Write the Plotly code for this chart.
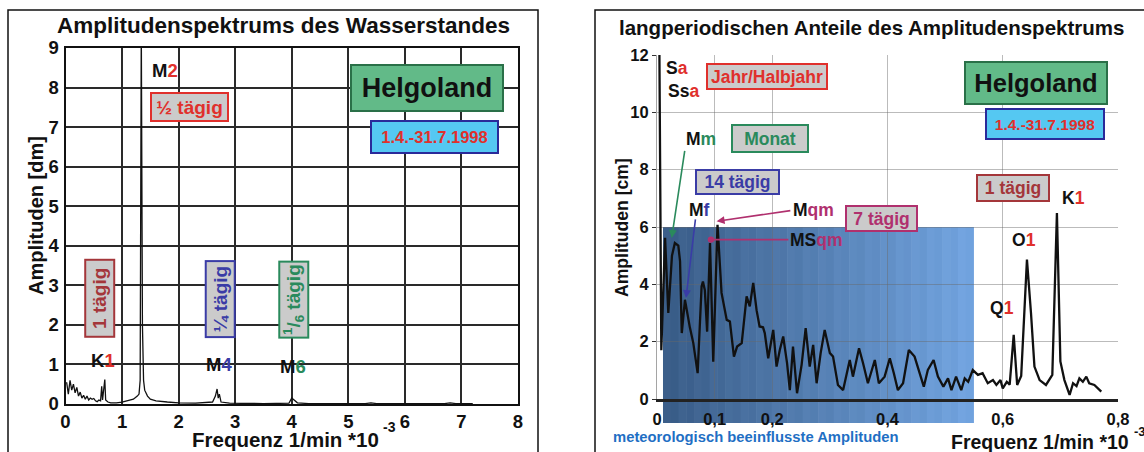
import plotly.graph_objects as go

W, H = 1144, 452
FONT = "Arial, Liberation Sans, Helvetica, sans-serif"

# ---------------- data: left chart (full spectrum, dm) ----------------
left_freq = [0.02, 0.05, 0.08, 0.11, 0.14, 0.17, 0.20, 0.23, 0.26, 0.29, 0.32, 0.35,
             0.38, 0.41, 0.44, 0.47, 0.50, 0.53, 0.56, 0.59, 0.62, 0.64, 0.655, 0.67,
             0.695, 0.71, 0.75, 0.80, 0.90, 1.00, 1.10, 1.20, 1.27, 1.30, 1.32, 1.34,
             1.36, 1.38, 1.40, 1.45, 1.50, 1.60, 1.80, 2.00, 2.30, 2.60, 2.65, 2.68,
             2.70, 2.72, 2.75, 2.90, 3.50, 3.95, 4.00, 4.03, 4.10, 4.30, 5.30, 5.40,
             5.50, 6.70, 6.80, 6.90, 7.20]
left_amp = [0.55, 0.25, 0.60, 0.35, 0.50, 0.28, 0.42, 0.20, 0.30, 0.15, 0.22, 0.12,
            0.20, 0.10, 0.15, 0.12, 0.14, 0.08, 0.06, 0.10, 0.08, 0.45, 0.10, 0.30,
            0.62, 0.10, 0.05, 0.03, 0.03, 0.05, 0.08, 0.12, 0.20, 0.25, 0.60, 9.60,
            2.00, 0.60, 0.35, 0.20, 0.12, 0.08, 0.05, 0.03, 0.02, 0.05, 0.20, 0.38,
            0.15, 0.25, 0.05, 0.02, 0.01, 0.02, 0.15, 0.12, 0.03, 0.01, 0.01, 0.03,
            0.01, 0.01, 0.03, 0.01, 0.01]

# ---------------- data: right chart (long-period part, cm) ----------------
right_freq = [0.004, 0.0075, 0.014, 0.0196, 0.026, 0.031, 0.037, 0.040, 0.043, 0.0485,
              0.057, 0.063, 0.0705, 0.0774, 0.0797, 0.083, 0.087, 0.092, 0.0976, 0.105,
              0.112, 0.121, 0.1265, 0.1335, 0.139, 0.147, 0.1555, 0.161, 0.167, 0.1728,
              0.178, 0.184, 0.187, 0.193, 0.2017, 0.2075, 0.213, 0.219, 0.2257, 0.2305,
              0.236, 0.243, 0.251, 0.258, 0.265, 0.271, 0.277, 0.284, 0.291, 0.300,
              0.3055, 0.314, 0.323, 0.3345, 0.340, 0.3506, 0.3576, 0.366, 0.378, 0.385,
              0.395, 0.404, 0.411, 0.418, 0.427, 0.437, 0.447, 0.456, 0.463, 0.470,
              0.480, 0.4875, 0.497, 0.505, 0.511, 0.519, 0.528, 0.534, 0.540, 0.548,
              0.557, 0.565, 0.574, 0.583, 0.589, 0.596, 0.600, 0.607, 0.612, 0.619,
              0.625, 0.632, 0.642, 0.649, 0.655, 0.664, 0.675, 0.686, 0.694, 0.700,
              0.707, 0.716, 0.722, 0.728, 0.733, 0.739, 0.745, 0.750, 0.759, 0.771]
right_amp = [12.6, 1.70, 5.62, 3.00, 5.00, 5.44, 5.35, 4.80, 2.30, 3.46,
             2.50, 1.95, 0.90, 3.93, 4.10, 3.80, 2.35, 5.44, 1.30, 6.08,
             3.70, 2.76, 2.70, 1.48, 1.83, 1.95, 3.58, 3.23, 4.05, 3.10,
             2.53, 2.50, 2.30, 1.42, 2.41, 1.13, 1.70, 2.18, 1.25, 0.31,
             1.83, 0.20, 1.20, 2.47, 1.13, 1.89, 0.55, 1.60, 2.41, 1.60,
             1.48, 0.49, 0.31, 1.36, 0.78, 1.77, 1.25, 0.55, 1.36, 0.55,
             0.78, 1.42, 0.90, 0.31, 0.55, 1.71, 1.48, 0.90, 0.43, 1.01,
             1.36, 0.78, 0.43, 0.72, 0.31, 0.78, 0.31, 0.72, 0.60, 1.01,
             0.84, 0.90, 0.55, 0.66, 0.49, 0.66, 0.37, 0.60, 0.50, 2.24,
             0.49, 0.80, 4.86, 3.00, 1.13, 0.66, 0.49, 0.84, 6.49, 1.31,
             0.66, 0.14, 0.55, 0.45, 0.72, 0.60, 0.78, 0.55, 0.49, 0.26]

right_tickvals = [0, 0.1, 0.2, 0.4, 0.6, 0.8]
right_ticktext = ["0", "0,1", "0,2", "0,4", "0,6", "0,8"]

# meteorologically influenced band (frequency range, amplitude top/bottom)
band_f0, band_f1 = 0.0104, 0.549
band_top, band_bottom = 6.0, -0.84

# ---------------- layout geometry ----------------
L_X = [65.5 / W, 518 / W]
L_Y = [(H - 404) / H, (H - 48) / H]
R_X = [657 / W, 1118 / W]
R_Y = [(H - 399) / H, (H - 55) / H]
R_XR = [0, 0.8]
R_YR = [0, 12]


def rx(f):
    return R_X[0] + (f - R_XR[0]) / (R_XR[1] - R_XR[0]) * (R_X[1] - R_X[0])


def ry(a):
    return R_Y[0] + (a - R_YR[0]) / (R_YR[1] - R_YR[0]) * (R_Y[1] - R_Y[0])


def px(x):
    return x / W


def py(y):
    return (H - y) / H


fig = go.Figure()
fig.add_trace(go.Scatter(x=left_freq, y=left_amp, mode="lines",
                         line=dict(color="#111111", width=1.3),
                         xaxis="x", yaxis="y", showlegend=False, hoverinfo="skip"))
fig.add_trace(go.Scatter(x=right_freq, y=right_amp, mode="lines",
                         line=dict(color="#111111", width=2.3),
                         xaxis="x2", yaxis="y2", showlegend=False, hoverinfo="skip"))

shapes = []
# gradient band (strips)
N = 40
c0 = (60, 95, 138)
c1 = (116, 166, 226)
x0p, x1p = rx(band_f0), rx(band_f1)
for i in range(N):
    t = i / (N - 1)
    col = tuple(int(round(c0[k] + (c1[k] - c0[k]) * t)) for k in range(3))
    if i % 2:
        col = tuple(max(0, c - 4) for c in col)
    shapes.append(dict(type="rect", xref="paper", yref="paper",
                       x0=x0p + (x1p - x0p) * i / N, x1=x0p + (x1p - x0p) * (i + 1) / N + 0.0005,
                       y0=ry(band_bottom), y1=ry(band_top),
                       fillcolor="rgb(%d,%d,%d)" % col, line=dict(width=0), layer="below"))
# panel frames
shapes.append(dict(type="rect", xref="paper", yref="paper", x0=px(8), x1=px(538), y0=-0.02, y1=py(10),
                   line=dict(color="#111", width=1.5), fillcolor="rgba(0,0,0,0)", layer="above"))
shapes.append(dict(type="rect", xref="paper", yref="paper", x0=px(595), x1=1.02, y0=-0.02, y1=py(10),
                   line=dict(color="#111", width=1.5), fillcolor="rgba(0,0,0,0)", layer="above"))

GRAY = "#cbcbcb"
ann = []


def txt(x, y, text, size, xref="x", yref="y", color="#111", **kw):
    d = dict(x=x, y=y, xref=xref, yref=yref, text=text, showarrow=False,
             xanchor="center", yanchor="middle",
             font=dict(family=FONT, size=size, color=color))
    d.update(kw)
    ann.append(d)


def box(x, y, text, size, color, border, fill, w, h, xref="x", yref="y", angle=0):
    ann.append(dict(x=x, y=y, xref=xref, yref=yref, text=text, showarrow=False,
                    xanchor="center", yanchor="middle",
                    font=dict(family=FONT, size=size, color=color),
                    bgcolor=fill, bordercolor=border, borderwidth=2, borderpad=0,
                    width=w, height=h, textangle=angle, align="center", valign="middle"))


RED = "#e0302c"
DRED = "#a4363a"
BLUE = "#3a3ca6"
GREEN = "#2a8a5c"
MAG = "#b0306e"

# titles
txt(px(283), py(25), "<b>Amplitudenspektrums des Wasserstandes</b>", 22.5, "paper", "paper")
txt(px(872), py(27), "<b>langperiodischen Anteile des Amplitudenspektrums</b>", 20.5, "paper", "paper")
# axis titles
txt(px(36), py(216), "<b>Amplituden [dm]</b>", 20, "paper", "paper", textangle=-90)
txt(px(285), py(439), "<b>Frequenz 1/min *10</b>", 20.5, "paper", "paper")
txt(px(381), py(427), "<b>-3</b>", 14, "paper", "paper", xanchor="left")
txt(px(622), py(228), "<b>Amplituden [cm]</b>", 17.6, "paper", "paper", textangle=-90)
txt(px(1040), py(442), "<b>Frequenz 1/min *10</b>", 19.5, "paper", "paper")
txt(px(1132), py(431), "<b>-3</b>", 13, "paper", "paper", xanchor="left")
txt(px(756), py(437), "<b>meteorologisch beeinflusste Amplituden</b>", 14.8, "paper", "paper",
    color="#1f6fc4")

# left chart labels
txt(1.76, 8.44, '<b>M<span style="color:%s">2</span></b>' % RED, 18.5)
txt(0.67, 1.11, '<b>K<span style="color:%s">1</span></b>' % RED, 18.5)
txt(2.72, 0.99, '<b>M<span style="color:%s">4</span></b>' % BLUE, 18.5)
txt(4.02, 0.95, '<b>M<span style="color:%s">6</span></b>' % GREEN, 18.5)
box(2.19, 7.51, "<b>½ tägig</b>", 19, RED, RED, GRAY, 75, 26)
box(6.39, 7.99, "<b>Helgoland</b>", 27, "#111", "#2a7048", "#62ba88", 150, 44)
box(6.53, 6.75, "<b>1.4.-31.7.1998</b>", 16.5, RED, "#2a2a9a", "#55c8f2", 125, 30)
box(0.61, 2.66, "<b>1 tägig</b>", 19, DRED, DRED, GRAY, 75, 27, angle=-90)
box(2.73, 2.65, "<b>¼ tägig</b>", 19, BLUE, BLUE, GRAY, 74, 27, angle=-90)
box(4.03, 2.65, "<b><sup>1</sup>/<sub>6</sub> tägig</b>", 19, GREEN, GREEN, GRAY, 74, 27, angle=-90)

# right chart labels
X2, Y2 = "x2", "y2"
txt(0.013, 11.54, '<b>S<span style="color:%s">a</span></b>' % RED, 17.5, X2, Y2, xanchor="left")
txt(0.0156, 10.75, '<b>Ss<span style="color:%s">a</span></b>' % RED, 17.5, X2, Y2, xanchor="left")
box(0.191, 11.26, "<b>Jahr/Halbjahr</b>", 17.5, RED, RED, GRAY, 118, 23, X2, Y2)
box(0.658, 11.04, "<b>Helgoland</b>", 25.5, "#111", "#2a7048", "#62ba88", 140, 40, X2, Y2)
box(0.673, 9.59, "<b>1.4.-31.7.1998</b>", 15.5, RED, "#2a2a9a", "#55c8f2", 116, 28, X2, Y2)
txt(0.076, 9.06, '<b>M<span style="color:%s">m</span></b>' % GREEN, 17.5, X2, Y2)
box(0.196, 9.09, "<b>Monat</b>", 17.5, GREEN, GREEN, GRAY, 74, 25, X2, Y2)
box(0.140, 7.57, "<b>14 tägig</b>", 17.5, BLUE, BLUE, GRAY, 81, 22, X2, Y2)
txt(0.0745, 6.61, '<b>M<span style="color:%s">f</span></b>' % BLUE, 17.5, X2, Y2)
txt(0.272, 6.61, '<b>M<span style="color:%s">qm</span></b>' % MAG, 17.5, X2, Y2)
box(0.390, 6.29, "<b>7 tägig</b>", 17.5, MAG, MAG, GRAY, 69, 23, X2, Y2)
txt(0.277, 5.56, '<b>MS<span style="color:%s">qm</span></b>' % MAG, 17.5, X2, Y2)
box(0.617, 7.37, "<b>1 tägig</b>", 17.5, DRED, DRED, GRAY, 70, 24, X2, Y2)
txt(0.722, 7.01, '<b>K<span style="color:%s">1</span></b>' % RED, 17.5, X2, Y2)
txt(0.636, 5.53, '<b>O<span style="color:%s">1</span></b>' % RED, 17.5, X2, Y2)
txt(0.598, 3.18, '<b>Q<span style="color:%s">1</span></b>' % RED, 17.5, X2, Y2)


def arrow(hx, hy, tx, ty, color, head=2):
    ann.append(dict(x=hx, y=hy, ax=tx, ay=ty, xref=X2, yref=Y2, axref=X2, ayref=Y2,
                    text="", showarrow=True, arrowhead=head, arrowsize=1, arrowwidth=1.6,
                    arrowcolor=color))


arrow(0.0255, 5.62, 0.0485, 8.71, GREEN)
arrow(0.0503, 3.52, 0.067, 6.32, BLUE)
arrow(0.1034, 6.20, 0.234, 6.58, MAG)
arrow(0.0936, 5.56, 0.2305, 5.56, MAG, head=6)

tickfont_l = dict(family=FONT, size=18.5, color="#111", weight="bold")
tickfont_r = dict(family=FONT, size=16.5, color="#111", weight="bold")

fig.update_layout(
    width=W, height=H, autosize=False,
    margin=dict(l=0, r=0, t=0, b=0, autoexpand=False),
    paper_bgcolor="white", plot_bgcolor="rgba(0,0,0,0)",
    showlegend=False,
    shapes=shapes, annotations=ann,
    xaxis=dict(domain=L_X, range=[0, 8], dtick=1, anchor="y", automargin=False,
               showgrid=True, gridcolor="#2a2a2a", gridwidth=1.8,
               showline=True, mirror=True, linecolor="#111", linewidth=2,
               ticks="", tickfont=tickfont_l, zeroline=False, fixedrange=True),
    yaxis=dict(domain=L_Y, range=[0, 9], dtick=1, anchor="x", automargin=False,
               showgrid=True, gridcolor="#2a2a2a", gridwidth=1.8,
               showline=True, mirror=True, linecolor="#111", linewidth=2,
               ticks="", ticklabelstandoff=1,
               tickfont=tickfont_l, zeroline=False, fixedrange=True),
    xaxis2=dict(domain=R_X, range=R_XR, anchor="y2", automargin=False,
                tickmode="array", tickvals=right_tickvals, ticktext=right_ticktext,
                showgrid=True, gridcolor="rgba(105,105,105,0.45)", gridwidth=1.2,
                showline=True, linecolor="#222", linewidth=3,
                ticks="", ticklabelstandoff=3,
                tickfont=tickfont_r, zeroline=False, fixedrange=True),
    yaxis2=dict(domain=R_Y, range=R_YR, anchor="x2", automargin=False,
                tickmode="array", tickvals=[0, 2, 4, 6, 8, 10, 12],
                showgrid=True, gridcolor="rgba(105,105,105,0.45)", gridwidth=1.2,
                showline=True, linecolor="rgba(105,105,105,0.6)", linewidth=1,
                ticks="outside", ticklen=4, tickcolor="#333",
                tickfont=tickfont_r, zeroline=False, fixedrange=True),
)

fig.write_html("out.html")
